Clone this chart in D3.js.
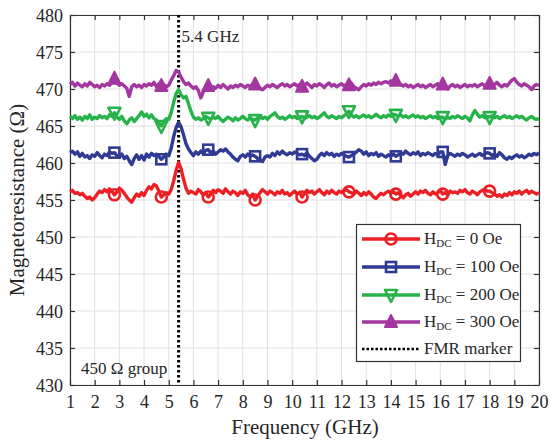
<!DOCTYPE html>
<html><head><meta charset="utf-8">
<script src="https://cdn.jsdelivr.net/npm/d3@7"></script>
<style>body{margin:0;background:#fff}svg{display:block} svg text{font-family:"Liberation Serif",serif !important}</style>
</head><body><svg id="c" width="550" height="442" font-family="Liberation Serif"></svg>
<script>
// Frequency grid (GHz), 0.1 GHz step from 1 to 20
const freq = d3.range(191).map(i => +(1 + i * 0.1).toFixed(1));
const markerFreqs = [2.8, 4.7, 6.6, 8.5, 10.4, 12.3, 14.2, 16.1, 18.0];
const xTicks = d3.range(1, 21);
const yTicks = [430, 435, 440, 445, 450, 455, 460, 465, 470, 475, 480];
const fmrFreq = 5.4;

const r0 = [
456.1,456.3,455.9,456.0,455.7,455.9,455.5,455.2,455.4,455.0,
455.3,455.8,456.2,456.0,456.4,456.1,456.5,456.2,455.7,456.1,
456.6,456.3,455.9,455.4,455.0,454.7,455.3,455.8,455.5,456.0,
455.6,456.3,456.8,456.5,457.1,456.9,456.2,455.4,455.7,456.0,
455.8,456.4,457.6,459.0,460.1,459.2,457.8,456.6,455.9,456.2,
456.0,455.8,456.4,456.1,455.7,456.0,455.4,455.8,456.3,456.0,
456.4,456.2,455.9,456.5,456.1,455.8,456.2,456.0,455.6,456.1,
455.9,456.3,455.7,455.4,455.8,455.0,455.5,456.0,456.4,456.1,
455.8,456.2,456.0,455.7,456.1,455.9,456.3,455.8,456.0,455.6,
455.9,456.2,455.8,456.0,455.4,455.9,456.3,456.0,456.2,455.8,
456.1,456.4,456.0,455.7,456.2,455.9,456.3,456.0,455.8,456.2,
456.0,456.3,456.4,456.1,456.0,455.8,456.2,455.9,455.6,456.0,
455.7,456.1,455.8,455.4,455.2,455.6,455.9,455.7,456.0,456.2,
455.9,456.1,455.8,456.0,455.6,455.3,455.7,455.9,455.5,455.8,
456.1,455.8,456.2,456.0,456.3,455.9,455.7,456.1,455.8,456.0,
456.3,455.8,456.0,455.7,456.2,456.0,456.1,455.9,456.3,456.1,
456.4,456.0,455.8,456.2,456.0,455.7,456.1,456.3,456.5,456.2,
456.2,456.0,455.8,455.5,455.7,455.4,455.8,455.6,456.0,455.7,
456.1,455.9,456.2,455.8,456.1,456.3,455.9,456.2,456.0,455.8,
456.0];
const r100 = [
461.4,461.6,461.2,461.5,460.9,461.3,460.8,461.0,460.6,461.1,
460.9,461.4,461.0,460.7,461.2,461.0,461.5,461.3,461.4,461.0,
460.8,461.2,460.6,460.9,460.3,459.8,460.6,461.1,460.5,461.0,
460.4,461.2,460.8,461.3,461.0,461.2,460.9,460.5,460.8,461.2,
461.0,462.0,463.6,464.8,465.5,464.9,463.8,462.6,461.9,461.4,
461.0,461.5,461.2,461.6,461.3,461.7,461.8,461.4,461.6,461.2,
461.5,461.8,461.6,461.9,461.5,461.2,460.8,460.5,460.3,460.9,
461.1,460.8,461.2,460.9,461.1,460.9,460.6,460.4,460.2,460.8,
461.0,460.8,461.3,461.0,461.5,461.2,461.6,461.3,461.1,461.4,
461.2,461.5,461.3,461.1,461.2,461.0,461.4,460.9,460.6,460.3,
460.5,461.0,461.3,461.0,461.4,461.1,461.3,460.9,461.2,461.0,
461.3,461.1,460.9,460.8,461.0,461.2,461.5,461.8,461.6,461.2,
461.5,461.0,461.3,461.1,461.4,460.9,461.2,461.0,460.8,461.1,
460.9,461.2,460.9,461.1,461.4,461.2,461.6,461.3,461.1,461.4,
461.2,461.5,461.0,461.3,461.1,461.4,461.2,461.0,461.3,461.1,
461.5,461.5,459.8,461.0,461.3,461.1,460.9,461.2,461.0,461.3,
461.1,460.8,461.0,461.2,460.9,461.1,461.3,461.0,461.2,461.4,
461.3,461.0,461.2,460.9,461.4,461.1,460.7,460.5,460.8,460.6,
460.9,461.1,460.8,461.0,460.7,460.9,461.2,461.0,461.3,461.1,
461.4];
const r200 = [
466.3,466.0,466.4,465.9,466.2,465.8,466.3,466.0,466.5,465.9,
466.2,466.0,466.4,466.1,466.3,466.0,466.5,466.3,466.8,466.2,
465.9,466.3,465.7,465.3,465.8,466.1,465.6,466.0,466.4,466.9,
466.3,466.6,466.1,466.5,466.0,465.8,465.4,465.0,465.6,466.0,
465.9,466.8,468.2,469.4,469.9,469.2,468.8,469.0,468.0,467.0,
466.2,465.9,466.1,465.8,466.0,466.3,466.1,465.9,466.2,466.0,
466.3,465.9,465.6,465.9,466.2,466.0,465.7,466.1,465.8,466.0,
466.3,466.0,465.8,466.1,465.9,465.8,466.1,466.3,466.0,466.2,
465.9,466.3,466.5,466.8,466.3,466.0,466.2,465.9,466.1,466.4,
466.1,466.3,466.0,466.2,466.3,466.0,466.2,466.4,466.1,466.3,
466.0,466.2,466.5,466.8,466.3,466.1,466.4,466.2,466.0,466.3,
466.1,466.4,466.6,467.0,466.5,466.2,466.4,466.1,466.3,466.5,
466.2,466.4,466.1,466.3,466.6,466.3,466.1,466.4,466.2,466.5,
466.3,466.6,466.5,466.3,466.5,466.2,466.4,466.1,466.3,466.5,
466.2,466.4,466.1,466.3,466.0,466.2,466.4,466.1,466.3,466.0,
466.2,466.2,465.9,466.2,466.0,466.3,466.1,466.4,466.2,466.0,
466.3,466.1,465.7,466.5,467.1,466.6,466.2,466.4,466.1,466.3,
466.2,466.4,466.1,466.3,466.0,466.2,466.4,466.1,466.3,466.0,
466.2,466.4,466.1,466.3,466.0,465.8,466.1,466.3,466.0,465.9,
466.0];
const r300 = [
470.6,470.9,470.4,470.8,470.5,470.3,470.7,470.4,470.9,470.6,
470.3,470.5,470.2,470.6,470.4,470.7,470.5,470.9,471.4,470.8,
470.5,470.7,470.4,470.1,469.0,470.3,470.6,470.3,470.5,470.2,
470.6,470.4,470.7,470.5,470.9,470.3,470.7,470.4,470.6,470.3,
470.5,471.2,471.8,472.5,472.3,471.6,471.0,470.6,470.8,470.4,
470.1,470.3,469.8,468.8,469.6,470.2,470.4,470.0,470.3,470.1,
470.5,470.2,470.6,470.3,470.0,470.4,470.2,470.5,470.3,470.6,
470.4,470.2,470.5,470.3,470.7,470.6,470.3,470.1,469.9,470.2,
470.5,470.3,470.6,470.4,470.2,470.5,470.7,470.4,470.6,470.3,
470.5,470.7,470.4,470.6,470.3,470.5,470.8,470.5,470.2,470.6,
470.4,470.7,470.5,470.2,470.6,470.8,470.4,470.6,470.3,470.5,
470.7,470.4,470.6,470.5,470.8,470.3,470.1,469.9,470.3,470.6,
470.4,470.7,470.5,470.8,470.6,470.9,470.7,470.9,471.0,470.8,
471.1,470.9,471.1,470.8,470.6,470.4,470.6,470.3,470.5,470.2,
470.4,470.6,470.3,470.5,470.2,470.4,470.6,470.3,470.5,470.7,
470.4,470.6,470.3,470.0,470.4,470.6,470.3,470.5,470.2,470.4,
470.6,470.3,470.5,470.4,470.6,470.3,470.5,470.7,470.4,470.6,
470.7,470.4,470.6,470.9,470.5,470.3,470.6,470.4,470.8,471.2,
471.4,470.9,470.6,470.4,470.7,470.5,470.3,469.9,470.4,470.6,
470.5];

const seriesNames = ["0", "100", "200", "300"];
const seriesVals = [r0, r100, r200, r300];
const colors = ["#ec2024", "#2e3a93", "#27b24a", "#a3369f"];
const shapes = ["circle", "square", "tridown", "triup"];

const FONT = '"Liberation Serif"';
const TXT = "#262626";
const svg = d3.select("#c");
const m = {l: 70, r: 539, t: 15, b: 385};
const x = d3.scaleLinear().domain([1, 20]).range([m.l, m.r]);
const y = d3.scaleLinear().domain([430, 480]).range([m.b, m.t]);

function txt(sel, size) {
  return sel.style("font-family", FONT).style("font-size", size + "px").attr("fill", TXT);
}

// grid
const g = svg.append("g");
g.selectAll(".gx").data(xTicks).join("line")
  .attr("x1", d => x(d)).attr("x2", d => x(d)).attr("y1", m.t).attr("y2", m.b)
  .attr("stroke", "#e0e0e0").attr("stroke-width", 1);
g.selectAll(".gy").data(yTicks).join("line")
  .attr("y1", d => y(d)).attr("y2", d => y(d)).attr("x1", m.l).attr("x2", m.r)
  .attr("stroke", "#e0e0e0").attr("stroke-width", 1);

// axes
const ax = svg.append("g").attr("transform", `translate(0,${m.b})`)
  .call(d3.axisBottom(x).tickValues(xTicks).tickSizeInner(-5).tickSizeOuter(0).tickPadding(10));
const axT = svg.append("g").attr("transform", `translate(0,${m.t})`)
  .call(d3.axisTop(x).tickValues(xTicks).tickSizeInner(-5).tickSizeOuter(0).tickFormat(""));
const ay = svg.append("g").attr("transform", `translate(${m.l},0)`)
  .call(d3.axisLeft(y).tickValues(yTicks).tickSizeInner(-5).tickSizeOuter(0).tickPadding(7));
const ayR = svg.append("g").attr("transform", `translate(${m.r},0)`)
  .call(d3.axisRight(y).tickValues(yTicks).tickSizeInner(-5).tickSizeOuter(0).tickFormat(""));
[ax, axT, ay, ayR].forEach(a => {
  a.attr("font-family", "Liberation Serif");
  a.selectAll(".domain").attr("stroke", "#333").attr("stroke-width", 1.2);
  a.selectAll(".tick line").attr("stroke", "#333").attr("stroke-width", 1.2);
  txt(a.selectAll("text"), 18);
});
ax.selectAll("text").attr("dy", "0.71em");
ay.selectAll("text").attr("dy", "0.34em");

// FMR marker line
svg.append("line").attr("x1", x(fmrFreq)).attr("x2", x(fmrFreq)).attr("y1", m.t).attr("y2", m.b)
  .attr("stroke", "#000").attr("stroke-width", 3).attr("stroke-dasharray", "2.5,2.5");

function drawMarker(sel, shape, color, cx, cy) {
  const s = 6;
  if (shape === "circle") {
    sel.append("circle").attr("cx", cx).attr("cy", cy).attr("r", s - 0.5)
      .attr("fill", "none").attr("stroke", color).attr("stroke-width", 2.6);
  } else if (shape === "square") {
    sel.append("rect").attr("x", cx - s + 1).attr("y", cy - s + 1).attr("width", 2 * s - 2).attr("height", 2 * s - 2)
      .attr("fill", "none").attr("stroke", color).attr("stroke-width", 2.6);
  } else if (shape === "tridown") {
    sel.append("path").attr("d", `M${cx - s},${cy - s + 1}L${cx + s},${cy - s + 1}L${cx},${cy + s + 1}Z`)
      .attr("fill", "none").attr("stroke", color).attr("stroke-width", 2.6).attr("stroke-linejoin", "round");
  } else {
    sel.append("path").attr("d", `M${cx - s},${cy + s - 1}L${cx + s},${cy + s - 1}L${cx},${cy - s - 1}Z`)
      .attr("fill", color).attr("stroke", color).attr("stroke-width", 2).attr("stroke-linejoin", "round");
  }
}

const line = d3.line().x((d, i) => x(freq[i])).y(d => y(d));
seriesVals.forEach((vals, k) => {
  const gs = svg.append("g");
  gs.append("path").datum(vals).attr("d", line).attr("fill", "none")
    .attr("stroke", colors[k]).attr("stroke-width", 3.4).attr("stroke-linejoin", "round");
  markerFreqs.forEach(f => {
    const i = freq.indexOf(f);
    drawMarker(gs, shapes[k], colors[k], x(f), y(vals[i]));
  });
});

// annotations
txt(svg.append("text").attr("x", x(fmrFreq) + 3).attr("y", 42), 17).text("5.4 GHz");
txt(svg.append("text").attr("x", 81).attr("y", 374), 17).text("450 Ω group");

// axis labels
txt(svg.append("text").attr("x", 305).attr("y", 434).attr("text-anchor", "middle"), 21).text("Frequency (GHz)");
txt(svg.append("text").attr("transform", `translate(24,${(m.t + m.b) / 2}) rotate(-90)`).attr("text-anchor", "middle"), 21)
  .text("Magnetoresistance (Ω)");

// legend
const lg = svg.append("g");
lg.append("rect").attr("x", 356.5).attr("y", 224.5).attr("width", 164).attr("height", 137)
  .attr("fill", "#fff").attr("stroke", "#333").attr("stroke-width", 1.2);
const rowsY = [239, 267, 295, 322, 349];
seriesNames.forEach((n, k) => {
  const cy = rowsY[k];
  lg.append("line").attr("x1", 362).attr("x2", 420).attr("y1", cy).attr("y2", cy)
    .attr("stroke", colors[k]).attr("stroke-width", 3.4);
  drawMarker(lg, shapes[k], colors[k], 391, cy);
  const t = txt(lg.append("text").attr("x", 424).attr("y", cy + 5), 17);
  t.append("tspan").text("H");
  t.append("tspan").attr("dy", 3).style("font-size", "11px").text("DC");
  t.append("tspan").attr("dy", -3).text(` = ${n} Oe`);
});
lg.append("line").attr("x1", 362).attr("x2", 420).attr("y1", rowsY[4]).attr("y2", rowsY[4])
  .attr("stroke", "#000").attr("stroke-width", 2.5).attr("stroke-dasharray", "2.5,2");
txt(lg.append("text").attr("x", 424).attr("y", rowsY[4] + 5), 17).text("FMR marker");
</script></body></html>
